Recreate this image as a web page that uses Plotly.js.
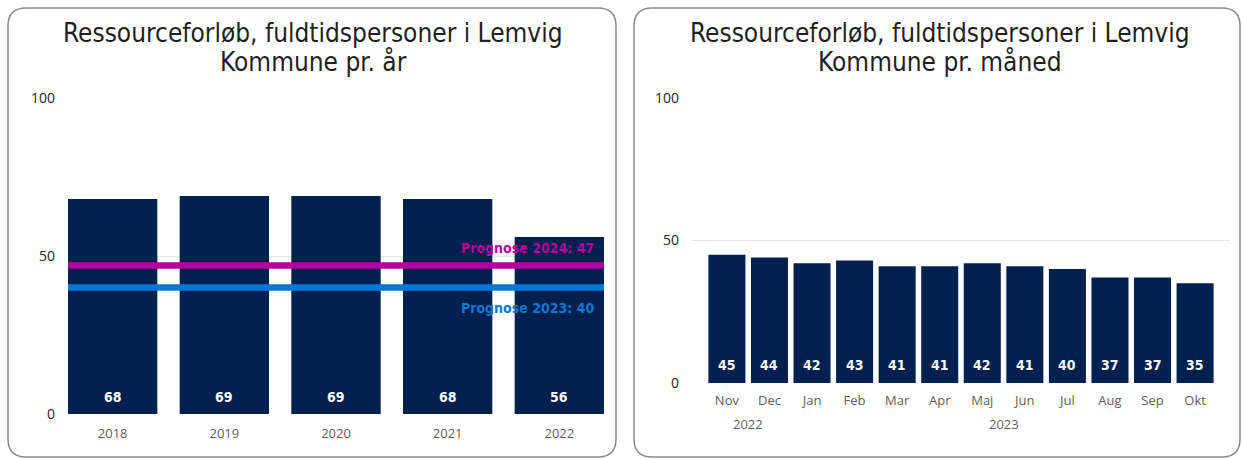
<!DOCTYPE html>
<html><head><meta charset="utf-8">
<script src="https://cdn.plot.ly/plotly-3.0.1.min.js"></script>
<style>html,body{margin:0;padding:0;background:#fff}#c{width:1242px;height:459px}</style>
</head><body><div id="c"></div>
<script>
// Data
const yearCats = ['2018','2019','2020','2021','2022'];
const yearVals = [68, 69, 69, 68, 56];
const prognoseLabels = ['Prognose 2024: 47', 'Prognose 2023: 40'];
const prognoseVals = [47, 40];
const monthCats = ['Nov','Dec','Jan','Feb','Mar','Apr','Maj','Jun','Jul','Aug','Sep','Okt'];
const monthVals = [45, 44, 42, 43, 41, 41, 42, 41, 40, 37, 37, 35];
const monthYearLabels = ['2022', '2023'];
const monthYearCenters = [0.5, 6.5];
const titleLines1 = ['Ressourceforløb, fuldtidspersoner i Lemvig', 'Kommune pr. år'];
const titleLines2 = ['Ressourceforløb, fuldtidspersoner i Lemvig', 'Kommune pr. måned'];
const yTicks = [0, 50, 100];

const NAVY = '#002050';
const MAGENTA = '#B4009E';
const BLUE = '#0078D4';
const W = 1242, H = 459;
const titleFont = {family: 'DejaVu Sans Condensed, sans-serif', size: 26, color: '#1f1f1f'};
const labFont = {family: 'DejaVu Sans Condensed, sans-serif', size: 14, color: '#ffffff', weight: 'bold'};
const tickFontX = {family: 'Open Sans, sans-serif', size: 13, color: '#605E5C'};
const tickFontY = {family: 'Open Sans, sans-serif', size: 14, color: '#252423'};

function px(x){return x/W;}
function py(y){return 1 - y/H;}

const traces = [
  {type:'bar', x: yearCats, y: yearVals, marker:{color: NAVY}, xaxis:'x', yaxis:'y', hoverinfo:'none', width:0.8},
  {type:'bar', x: monthCats, y: monthVals, marker:{color: NAVY}, xaxis:'x2', yaxis:'y2', hoverinfo:'none', width:0.87}
];

const annotations = [];
// bar labels
yearCats.forEach((c,i)=>annotations.push({xref:'x', yref:'y', x:i, y:0, yshift:17, text:String(yearVals[i]), showarrow:false, font:labFont, xanchor:'center', yanchor:'middle'}));
monthCats.forEach((c,i)=>annotations.push({xref:'x2', yref:'y2', x:i, y:0, yshift:18, text:String(monthVals[i]), showarrow:false, font:labFont, xanchor:'center', yanchor:'middle'}));
// prognose labels
const progColors = [MAGENTA, BLUE];
const progShift = [17, -20];
prognoseVals.forEach((v,i)=>annotations.push({xref:'x domain', yref:'y', x:1, y:v, xanchor:'right', xshift:-8, yshift:progShift[i], yanchor:'middle', text:prognoseLabels[i], showarrow:false, font:{family:'DejaVu Sans Condensed, sans-serif', size:14, weight:'bold', color:progColors[i]}}));
// year labels for month chart
monthYearLabels.forEach((t,i)=>annotations.push({xref:'x2', yref:'paper', x:monthYearCenters[i], y:py(424), xanchor:'center', yanchor:'middle', text:t, showarrow:false, font:tickFontX}));
// titles
const lineY = [33, 62];
titleLines1.forEach((t,i)=>annotations.push({xref:'paper', yref:'paper', x:px(313), y:py(lineY[i]), xanchor:'center', yanchor:'middle', text:t, showarrow:false, font:titleFont}));
titleLines2.forEach((t,i)=>annotations.push({xref:'paper', yref:'paper', x:px(940), y:py(lineY[i]), xanchor:'center', yanchor:'middle', text:t, showarrow:false, font:titleFont}));

const shapes = [];
prognoseVals.forEach((v,i)=>shapes.push({type:'line', xref:'x domain', yref:'y', x0:0, x1:1, y0:v, y1:v, line:{color:progColors[i], width:6.5}, layer:'above'}));

function roundRect(x0,y0,x1,y1,r){
  const rx=r/W, ry=r/H;
  const X0=px(x0), X1=px(x1), Yt=py(y0), Yb=py(y1);
  return `M ${X0+rx},${Yt} L ${X1-rx},${Yt} Q ${X1},${Yt} ${X1},${Yt-ry} L ${X1},${Yb+ry} Q ${X1},${Yb} ${X1-rx},${Yb} L ${X0+rx},${Yb} Q ${X0},${Yb} ${X0},${Yb+ry} L ${X0},${Yt-ry} Q ${X0},${Yt} ${X0+rx},${Yt} Z`;
}
shapes.push({type:'path', xref:'paper', yref:'paper', path:roundRect(8,8,616,457,18), line:{color:'#8a8a8a', width:1.5}, layer:'below'});
shapes.push({type:'path', xref:'paper', yref:'paper', path:roundRect(634,8,1240,457,18), line:{color:'#8a8a8a', width:1.5}, layer:'below'});

const yaxBase = {range:[0,100], tickvals:yTicks, showgrid:true, gridcolor:'#E8E8E8', gridwidth:1, zeroline:false, tickfont:tickFontY, ticks:'', ticklabelstandoff:12, fixedrange:true};
const layout = {
  width: W, height: H,
  margin:{l:0,r:0,t:0,b:0},
  paper_bgcolor:'#ffffff', plot_bgcolor:'rgba(0,0,0,0)',
  showlegend:false,
  xaxis:{domain:[px(68), px(604)], range:[-0.4, 4.4], type:'category', tickfont:tickFontX, ticks:'', ticklabelstandoff:10, showgrid:false, zeroline:false, showline:false, anchor:'y'},
  yaxis:Object.assign({}, yaxBase, {domain:[py(414), py(98)], anchor:'x'}),
  xaxis2:{domain:[px(692), px(1230)], range:[-0.82, 11.82], type:'category', tickfont:tickFontX, ticks:'', ticklabelstandoff:8, showgrid:false, zeroline:false, showline:false, anchor:'y2'},
  yaxis2:Object.assign({}, yaxBase, {domain:[py(383), py(98)], anchor:'x2'}),
  annotations, shapes
};
Plotly.newPlot('c', traces, layout, {staticPlot:true, displayModeBar:false});
</script></body></html>
